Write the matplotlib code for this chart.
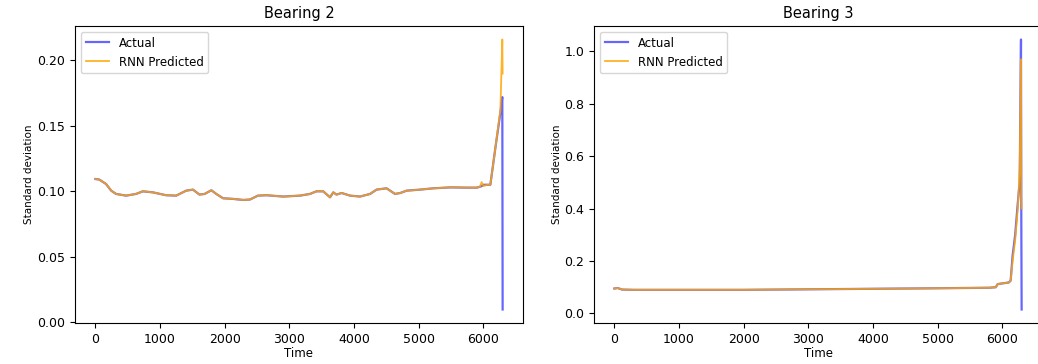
import matplotlib
matplotlib.use("Agg")
import matplotlib.pyplot as plt

# Bearing 2: standard deviation over time, actual vs RNN prediction
b2_time = [0, 60, 165, 245, 320, 475, 630, 735, 890, 1095, 1250, 1405, 1510,
           1610, 1690, 1795, 1870, 1975, 2130, 2285, 2390, 2515, 2645, 2905,
           3165, 3320, 3420, 3525, 3630, 3680, 3730, 3810, 3940, 4095, 4250,
           4350, 4505, 4635, 4715, 4815, 5025, 5230, 5490, 5745, 5900, 5950,
           5975, 6005, 6060, 6110, 6190, 6265, 6295, 6300]
b2_actual = [0.1094, 0.1090, 0.1056, 0.1005, 0.0980, 0.0967, 0.0980, 0.1000,
             0.0992, 0.0970, 0.0967, 0.1005, 0.1013, 0.0975, 0.0980, 0.1008,
             0.0980, 0.0947, 0.0942, 0.0934, 0.0937, 0.0967, 0.0970, 0.0960,
             0.0967, 0.0980, 0.1000, 0.1000, 0.0954, 0.0992, 0.0975, 0.0987,
             0.0967, 0.0960, 0.0980, 0.1013, 0.1023, 0.0980, 0.0987, 0.1005,
             0.1013, 0.1023, 0.1030, 0.1028, 0.1028, 0.1035, 0.1040, 0.1050,
             0.1050, 0.1050, 0.1340, 0.1600, 0.1720, 0.0097]
b2_pred = [0.1094, 0.1090, 0.1056, 0.1005, 0.0980, 0.0967, 0.0980, 0.1000,
           0.0992, 0.0970, 0.0967, 0.1005, 0.1013, 0.0975, 0.0980, 0.1008,
           0.0980, 0.0947, 0.0942, 0.0934, 0.0937, 0.0967, 0.0970, 0.0960,
           0.0967, 0.0980, 0.1000, 0.1000, 0.0954, 0.0992, 0.0975, 0.0987,
           0.0967, 0.0960, 0.0980, 0.1013, 0.1023, 0.0980, 0.0987, 0.1005,
           0.1013, 0.1023, 0.1030, 0.1028, 0.1028, 0.1035, 0.1070, 0.1040,
           0.1050, 0.1050, 0.1340, 0.1620, 0.2160, 0.1900]

# Bearing 3
b3_time = [0, 50, 120, 300, 1000, 2000, 3000, 4000, 5000, 5800, 5900, 5930,
           6100, 6130, 6160, 6200, 6240, 6270, 6290, 6295, 6300]
b3_actual = [0.095, 0.097, 0.091, 0.090, 0.090, 0.090, 0.092, 0.094, 0.096,
             0.098, 0.100, 0.112, 0.118, 0.125, 0.220, 0.300, 0.420, 0.500,
             1.045, 0.350, 0.015]
b3_pred = [0.095, 0.097, 0.091, 0.090, 0.090, 0.090, 0.092, 0.094, 0.096,
           0.098, 0.100, 0.112, 0.118, 0.125, 0.200, 0.280, 0.400, 0.550,
           0.970, 0.450, 0.400]

panels = [
    ("Bearing 2", b2_time, b2_actual, b2_pred),
    ("Bearing 3", b3_time, b3_actual, b3_pred),
]

fig = plt.figure(figsize=(10.38, 3.64), dpi=100)
boxes = [[75 / 1038, 41 / 364, 448 / 1038, 297 / 364],
         [594 / 1038, 41 / 364, 448 / 1038, 297 / 364]]

for box, (title, t, actual, pred) in zip(boxes, panels):
    ax = fig.add_axes(box)
    ax.plot(t, actual, color="blue", alpha=0.6, linewidth=1.6, label="Actual")
    ax.plot(t, pred, color="orange", alpha=0.85, linewidth=1.3,
            label="RNN Predicted")
    ax.set_title(title, fontsize=10.5)
    ax.set_xlabel("Time", fontsize=8.5, labelpad=1)
    ax.set_ylabel("Standard deviation", fontsize=7.5, labelpad=2)
    ax.tick_params(labelsize=9)
    ax.set_xticks([0, 1000, 2000, 3000, 4000, 5000, 6000])
    ax.legend(loc="upper left", fontsize=8.5)

fig.savefig("out.png", dpi=100)
